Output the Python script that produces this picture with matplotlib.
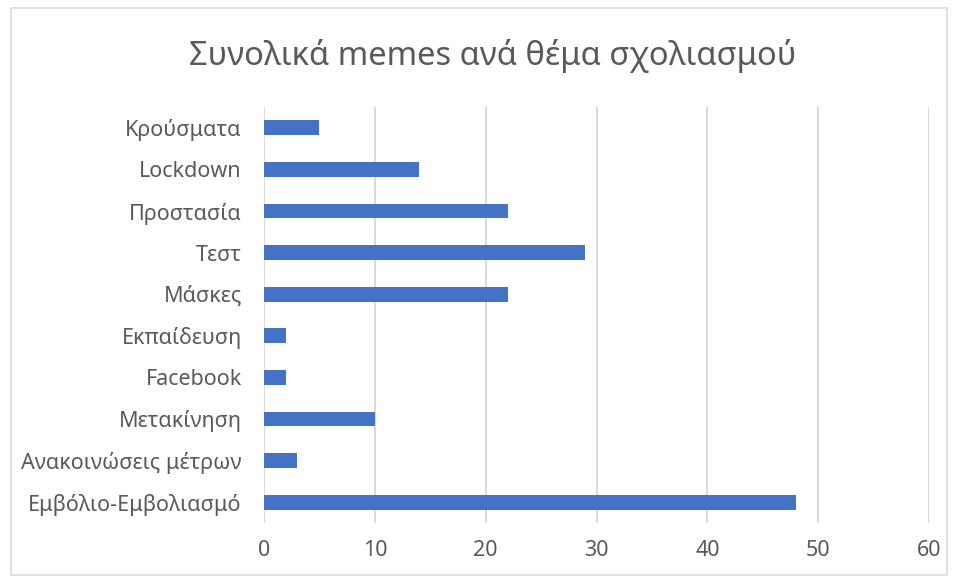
import matplotlib.pyplot as plt
from matplotlib.patches import Rectangle

plt.rcParams['font.family'] = ['Noto Sans', 'DejaVu Sans']

categories = ['Κρούσματα', 'Lockdown', 'Προστασία', 'Τεστ', 'Μάσκες',
              'Εκπαίδευση', 'Facebook', 'Μετακίνηση', 'Ανακοινώσεις μέτρων',
              'Εμβόλιο-Εμβολιασμό']
counts = [5, 14, 22, 29, 22, 2, 2, 10, 3, 48]
xticks = [0, 10, 20, 30, 40, 50, 60]

text_color = '#595959'
grid_color = '#d9d9d9'
bar_color = '#4472C4'

fig = plt.figure(figsize=(9.58, 5.8), dpi=100)
ax = fig.add_axes([0.2756, 0.0983, 0.6942, 0.7172])

ypos = list(range(len(categories)))
ax.barh(ypos, counts, height=0.36, color=bar_color, zorder=3)
ax.set_yticks(ypos)
ax.set_yticklabels(categories)
ax.set_ylim(len(categories) - 0.5, -0.5)
ax.set_xlim(0, 60)
ax.set_xticks(xticks)
ax.grid(axis='x', color=grid_color, linewidth=1.4, zorder=0)
ax.tick_params(axis='both', length=0, labelsize=15.5, colors=text_color)
ax.tick_params(axis='x', pad=12)
ax.tick_params(axis='y', pad=16)
for s in ax.spines.values():
    s.set_visible(False)

fig.text(0.514, 0.904, 'Συνολικά memes ανά θέμα σχολιασμού', ha='center',
         va='center', fontsize=23.5, color=text_color)

fig.patches.append(Rectangle((0.011, 0.009), 0.978, 0.977, transform=fig.transFigure,
                             fill=False, edgecolor=grid_color, linewidth=1.2))

fig.savefig('out.png', dpi=100)
